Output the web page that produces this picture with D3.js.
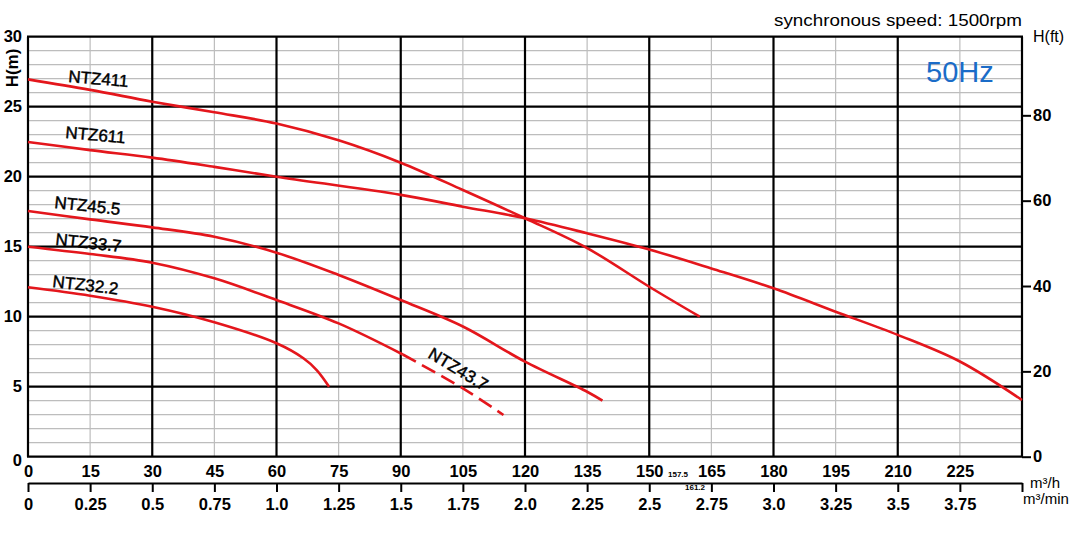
<!DOCTYPE html>
<html><head><meta charset="utf-8">
<script src="https://cdn.jsdelivr.net/npm/d3@7"></script>
<style>
html,body{margin:0;padding:0;background:#fff;}
svg{display:block;font-family:"Liberation Sans",Arial,sans-serif;}
</style></head>
<body><svg id="c" width="1081" height="535"></svg>
<script>
// ---- data ----
const flowTicks = [0,15,30,45,60,75,90,105,120,135,150,165,180,195,210,225];
const minTicks = [0,0.25,0.5,0.75,1.0,1.25,1.5,1.75,2.0,2.25,2.5,2.75,3.0,3.25,3.5,3.75,4.0];
const minLabels = ["0","0.25","0.5","0.75","1.0","1.25","1.5","1.75","2.0","2.25","2.5","2.75","3.0","3.25","3.5","3.75",""];
const headTicks = [0,5,10,15,20,25,30];
const ftTicks = [0,20,40,60,80];

const ntz411Q = [0,15,30,45,60,75,90,105,120,135,150,162.2];
const ntz411H = [26.95,26.2,25.36,24.6,23.8,22.6,21.0,19.05,17.03,14.9,12.14,10.0];
const ntz611Q = [0,15,30,45,60,90,105,120,135,150,165,180,195,210,225,240];
const ntz611H = [22.48,21.9,21.36,20.7,20.0,18.7,17.86,17.03,15.96,14.8,13.45,12.03,10.36,8.7,6.8,4.05];
const ntz455Q = [0,15,30,45,60,75,90,105,120,135,138.7];
const ntz455H = [17.55,16.95,16.38,15.71,14.57,12.98,11.19,9.3,6.79,4.64,4.0];
const ntz337Q = [0,15,30,45,60,75,90.5];
const ntz337H = [15.0,14.48,13.86,12.74,11.19,9.52,7.3];
const ntz437Q = [90.5,105,114.8];
const ntz437H = [7.3,4.88,2.98];
const ntz322Q = [0,15,30,45,60,66.5,69.7,72.7];
const ntz322H = [12.1,11.5,10.71,9.6,8.1,7.03,6.19,5.0];

// ---- layout ----
const svg = d3.select("#c");
const x = d3.scaleLinear().domain([0,240]).range([28,1022]);
const y = d3.scaleLinear().domain([0,30]).range([456.7,36.7]);
const yFt = d3.scaleLinear().domain([0,30/0.3048]).range([456.7,36.7]);
const xMin = d3.scaleLinear().domain([0,4]).range([28,1022]);
const RED = "#e4161c";
const FONT = "Liberation Sans, Arial, sans-serif";

// grid minor
const g = svg.append("g");
g.selectAll("line.hmin").data(d3.range(1,30).filter(v=>v%5)).join("line")
  .attr("x1",x(0)).attr("x2",x(240)).attr("y1",d=>y(d)).attr("y2",d=>y(d))
  .attr("stroke","#bdbdbd").attr("stroke-width",1.2);
g.selectAll("line.vmin").data(d3.range(15,240,30)).join("line")
  .attr("y1",y(0)).attr("y2",y(30)).attr("x1",d=>x(d)).attr("x2",d=>x(d))
  .attr("stroke","#bdbdbd").attr("stroke-width",1.2);
// grid major
g.selectAll("line.hmaj").data(d3.range(0,31,5)).join("line")
  .attr("x1",x(0)-1).attr("x2",x(240)+1).attr("y1",d=>y(d)).attr("y2",d=>y(d))
  .attr("stroke","#000").attr("stroke-width",2.2);
g.selectAll("line.vmaj").data(d3.range(0,241,30)).join("line")
  .attr("y1",y(0)).attr("y2",y(30)).attr("x1",d=>x(d)).attr("x2",d=>x(d))
  .attr("stroke","#000").attr("stroke-width",2.2);

// curves
const line = d3.line().x(d=>x(d[0])).y(d=>y(d[1])).curve(d3.curveCatmullRom.alpha(0.5));
const series = [
  [ntz411Q,ntz411H,null],
  [ntz611Q,ntz611H,null],
  [ntz455Q,ntz455H,null],
  [ntz337Q,ntz337H,null],
  [ntz437Q,ntz437H,"15,7"],
  [ntz322Q,ntz322H,null]
];
series.forEach(([q,h,dash])=>{
  svg.append("path").datum(d3.zip(q,h)).attr("d",line)
    .attr("fill","none").attr("stroke",RED).attr("stroke-width",2.6)
    .attr("stroke-linecap","butt")
    .attr("stroke-dasharray",dash);
});

// curve labels
const labels = [
  ["NTZ411",68,82,4.8],
  ["NTZ611",65,138,5],
  ["NTZ45.5",54,208,6],
  ["NTZ33.7",55,245,6],
  ["NTZ32.2",52,287,6.5],
  ["NTZ43.7",427,357,31]
];
labels.forEach(([t,lx,ly,a])=>{
  svg.append("text").attr("transform",`translate(${lx},${ly}) rotate(${a})`)
    .attr("font-size",17).attr("fill","#000")
    .attr("stroke","#000").attr("stroke-width",0.45).text(t);
});

// left axis labels
const axL = svg.append("g").attr("transform",`translate(${x(0)},0)`)
  .call(d3.axisLeft(y).tickValues(headTicks).tickSize(0).tickPadding(6));
axL.select(".domain").remove();
axL.selectAll("text").attr("font-size",16.5).attr("font-weight","bold").attr("font-family",FONT).attr("fill","#000");
axL.selectAll(".tick").filter(d=>d===0).select("text").attr("dy","0.55em");

// right ft axis
const axR = svg.append("g").attr("transform",`translate(${x(240)},0)`)
  .call(d3.axisRight(yFt).tickValues(ftTicks).tickSize(9).tickPadding(2).tickSizeOuter(0));
axR.select(".domain").remove();
axR.selectAll("line").attr("stroke","#000").attr("stroke-width",2);
axR.selectAll("text").attr("font-size",16.5).attr("font-weight","bold").attr("font-family",FONT).attr("fill","#000");

// bottom flow labels (m3/h)
const axB = svg.append("g").attr("transform",`translate(0,${y(0)})`)
  .call(d3.axisBottom(x).tickValues(flowTicks).tickSize(0).tickPadding(9));
axB.select(".domain").remove();
axB.selectAll("text").attr("font-size",16.5).attr("font-weight","bold").attr("font-family",FONT).attr("fill","#000");

// second axis m3/min
const axM = svg.append("g").attr("transform","translate(0,483)")
  .call(d3.axisBottom(xMin).tickValues(minTicks).tickFormat((d,i)=>minLabels[i]).tickSize(9).tickSizeOuter(0).tickPadding(6));
axM.select(".domain").attr("stroke","#000").attr("stroke-width",2.2);
axM.selectAll("line").attr("stroke","#000").attr("stroke-width",2);
axM.selectAll("text").attr("font-size",16.5).attr("font-weight","bold").attr("font-family",FONT).attr("fill","#000");

// small annotations
svg.append("text").attr("x",668).attr("y",477).attr("font-size",8).attr("font-weight","bold").text("157.5");
svg.append("text").attr("x",685).attr("y",490).attr("font-size",8).attr("font-weight","bold").text("161.2");

// unit labels
svg.append("text").attr("x",1030).attr("y",488).attr("font-size",15).text("m³/h");
svg.append("text").attr("x",1023).attr("y",504).attr("font-size",15).text("m³/min");
svg.append("text").attr("transform","translate(18,68) rotate(-90)").attr("text-anchor","middle")
  .attr("font-size",17).attr("font-weight","bold").text("H(m)");
svg.append("text").attr("x",1033).attr("y",42).attr("font-size",16).text("H(ft)");
svg.append("text").attr("x",1022).attr("y",26).attr("text-anchor","end").attr("font-size",17)
  .attr("textLength",248).attr("lengthAdjust","spacingAndGlyphs").text("synchronous speed: 1500rpm");
svg.append("text").attr("x",926).attr("y",82).attr("font-size",29).attr("fill","#1a6cc8").text("50Hz");
</script></body></html>
